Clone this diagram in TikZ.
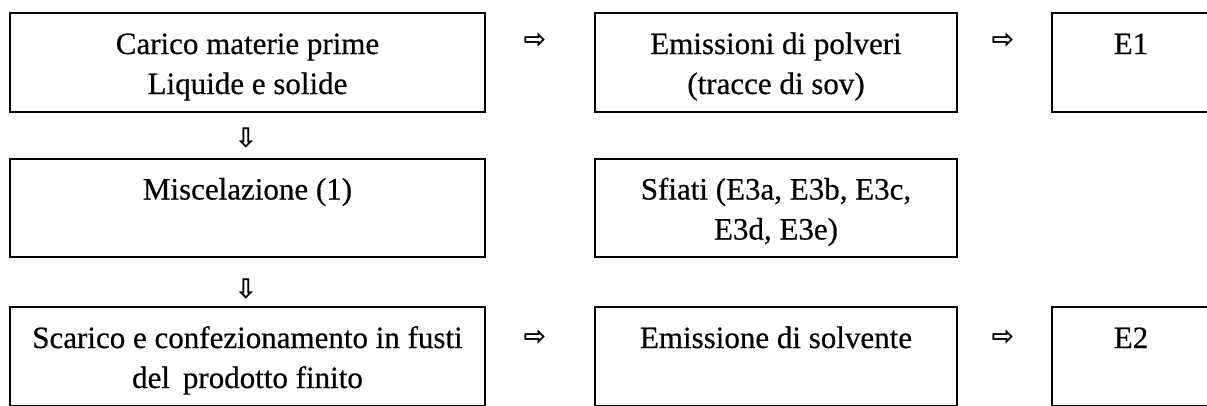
\documentclass[tikz,border=0pt]{standalone}
\usepackage{fontspec}
\setmainfont{Liberation Serif}
\newfontfamily\boxfont{Liberation Serif}[FakeBold=0.5]
\newfontfamily\symfont{DejaVu Sans}
\newcommand\lnstrut{\rule[-8.5pt]{0pt}{40pt}}
\begin{document}
\begin{tikzpicture}[x=1pt,y=-1pt,
  box/.style={draw, line width=1.8pt, inner sep=0pt, align=center,
    font=\boxfont\fontsize{31}{40}\selectfont},
  rowA/.style={minimum height=99pt},
  wideBox/.style={minimum width=475pt},
  midBox/.style={minimum width=362pt},
  smallBox/.style={minimum width=158pt},
  arr/.style={font=\symfont\bfseries\fontsize{27}{27}\selectfont, inner sep=0pt}]
\useasboundingbox (0,0) rectangle (1207,405);
\clip (0,0) rectangle (1207,405);
% row 1
\node[box, rowA, wideBox] (carico) at (247.5,62.5) {\lnstrut Carico materie prime\\\lnstrut Liquide e solide};
\node[box, rowA, midBox] (polveri) at (776,62.5) {\lnstrut Emissioni di polveri\\\lnstrut (tracce di sov)};
\node[box, rowA, smallBox] (e1) at (1131,62.5) {\lnstrut E1\\\lnstrut};
% row 2
\node[box, minimum height=98pt, wideBox] (mix) at (247.5,208) {\lnstrut Miscelazione (1)\\\lnstrut};
\node[box, minimum height=98pt, midBox] (sfiati) at (776,208) {\lnstrut Sfiati (E3a, E3b, E3c,\\\lnstrut E3d, E3e)};
% row 3
\node[box, rowA, wideBox] (scarico) at (247.5,356.5) {\lnstrut Scarico e confezionamento in fusti\\\lnstrut del\, prodotto finito};
\node[box, rowA, midBox] (solvente) at (776,356.5) {\lnstrut Emissione di solvente\\\lnstrut};
\node[box, rowA, smallBox] (e2) at (1131,356.5) {\lnstrut E2\\\lnstrut};
% arrows
\node[arr] (a1) at (535,41) {⇨};
\node[arr] (a2) at (1003,41) {⇨};
\node[arr] (a3) at (535,338) {⇨};
\node[arr] (a4) at (1003,338) {⇨};
\node[arr] (d1) at (246,138) {⇩};
\node[arr] (d2) at (246,289) {⇩};
\end{tikzpicture}
\end{document}
